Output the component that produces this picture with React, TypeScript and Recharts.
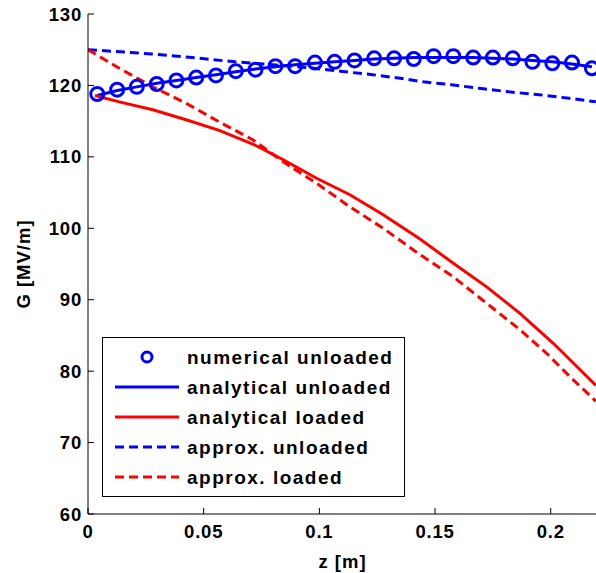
import { LineChart, Line, XAxis, YAxis, Legend } from "recharts";

// numerical unloaded (circles)
const numZ = [0.004, 0.0126, 0.0211, 0.0297, 0.0382, 0.0468, 0.0553, 0.0639, 0.0724, 0.081, 0.0895, 0.0981, 0.1066,
  0.1152, 0.1237, 0.1323, 0.1408, 0.1494, 0.1579, 0.1665, 0.175, 0.1836, 0.1921, 0.2007, 0.2092, 0.2178];
const numG = [118.8, 119.4, 119.8, 120.2, 120.7, 121.1, 121.4, 122.0, 122.2, 122.7, 122.7, 123.2, 123.3,
  123.5, 123.8, 123.8, 123.7, 124.1, 124.1, 123.9, 123.9, 123.8, 123.3, 123.1, 123.2, 122.4];

// analytical unloaded (solid blue)
const anaUnlG = [118.6, 119.3, 119.8, 120.3, 120.7, 121.1, 121.5, 121.9, 122.3, 122.6, 122.9, 123.1, 123.3,
  123.5, 123.7, 123.8, 123.9, 123.9, 123.9, 123.9, 123.8, 123.7, 123.5, 123.3, 123.0, 122.6];

// analytical loaded (solid red)
const anaLoadZ = [0.003, 0.0135, 0.028, 0.0424, 0.0567, 0.0712, 0.0844, 0.0988, 0.1132, 0.1276, 0.1435, 0.1579,
  0.1723, 0.1867, 0.2011, 0.2195];
const anaLoadG = [118.6, 117.7, 116.6, 115.2, 113.7, 111.8, 109.6, 107.0, 104.7, 101.9, 98.5, 95.1, 91.8, 88.1, 83.9, 78.0];

// approx. unloaded (dashed blue)
const appUnlZ = [0, 0.01, 0.0275, 0.045, 0.0635, 0.08, 0.095, 0.11, 0.123, 0.135, 0.145, 0.157, 0.169, 0.182, 0.195,
  0.208, 0.2195];
const appUnlG = [125.0, 124.8, 124.4, 123.9, 123.3, 122.9, 122.5, 121.95, 121.5, 121.0, 120.5, 120.1, 119.6, 119.1,
  118.7, 118.2, 117.7];

// approx. loaded (dashed red)
const appLoadZ = [0, 0.0135, 0.028, 0.0424, 0.0567, 0.0712, 0.0844, 0.0988, 0.1132, 0.1276, 0.1435, 0.1579, 0.1723,
  0.1867, 0.1982, 0.2084, 0.2195];
const appLoadG = [125.0, 122.4, 119.8, 117.5, 114.9, 112.4, 109.3, 106.3, 103.0, 100.0, 96.3, 93.2, 89.5, 85.8, 82.5,
  79.2, 75.8];

const xTicks = [0, 0.05, 0.1, 0.15, 0.2];
const yTicks = [60, 70, 80, 90, 100, 110, 120, 130];

const legendItems = [
  { name: "numerical unloaded", color: "#0000FF", kind: "circle" },
  { name: "analytical unloaded", color: "#0000FF", kind: "solid" },
  { name: "analytical loaded", color: "#FF0000", kind: "solid" },
  { name: "approx. unloaded", color: "#0000FF", kind: "dash" },
  { name: "approx. loaded", color: "#FF0000", kind: "dash" },
];

const toPts = (zs: number[], gs: number[]) => zs.map((z, i) => ({ z, g: gs[i] }));

const FONT = "'Liberation Sans', Arial, sans-serif";
const DASH = "9 5";

const XTick = (props: any) => {
  const { x, y, payload } = props;
  return (
    <g>
      <line x1={x} y1={y} x2={x} y2={y - 6} stroke="#000" strokeWidth={1} />
      <text x={x} y={y + 24} textAnchor="middle" fontFamily={FONT} fontWeight="bold" fontSize={18.5}
        letterSpacing={0.8} fill="#000">{payload.value}</text>
    </g>
  );
};

const YTick = (props: any) => {
  const { x, y, payload } = props;
  return (
    <g>
      <line x1={x} y1={y} x2={x + 6} y2={y} stroke="#000" strokeWidth={1} />
      <text x={x - 6} y={y + 6.5} textAnchor="end" fontFamily={FONT} fontWeight="bold" fontSize={18.5}
        letterSpacing={0.8} fill="#000">{payload.value}</text>
    </g>
  );
};

const LegendBox = () => (
  <svg width={303} height={160}>
    <rect x={0.5} y={0.5} width={302} height={159} fill="#fff" stroke="#000" strokeWidth={1} />
    {legendItems.map((it, i) => {
      const cy = 20 + i * 30;
      return (
        <g key={it.name}>
          {it.kind === "circle" ? (
            <circle cx={45} cy={cy} r={5} fill="none" stroke={it.color} strokeWidth={3} />
          ) : (
            <line x1={13} y1={cy} x2={77} y2={cy} stroke={it.color} strokeWidth={3}
              strokeDasharray={it.kind === "dash" ? DASH : undefined} />
          )}
          <text x={85} y={cy + 7} fontFamily={FONT} fontWeight="bold" fontSize={19} letterSpacing={1.5}
            fill="#000">{it.name}</text>
        </g>
      );
    })}
  </svg>
);

export default function App() {
  return (
    <div style={{ position: "absolute", left: 0, top: 0, width: 596, height: 573, overflow: "hidden", background: "#fff" }}>
      <LineChart width={597} height={573} margin={{ top: 14, right: 0, bottom: 0, left: 0 }}>
        <XAxis
          dataKey="z"
          type="number"
          domain={[0, 0.22]}
          ticks={xTicks}
          allowDataOverflow
          height={59}
          tickSize={0}
          tickMargin={0}
          tick={<XTick />}
          axisLine={{ stroke: "#000", strokeWidth: 1 }}
          label={(p: any) => {
            const vb = p.viewBox;
            return (
              <text x={vb.x + vb.width / 2} y={vb.y + 54} textAnchor="middle" fontFamily={FONT} fontWeight="bold"
                fontSize={18.5} letterSpacing={1} fill="#000">z [m]</text>
            );
          }}
        />
        <YAxis
          dataKey="g"
          type="number"
          domain={[60, 130]}
          ticks={yTicks}
          allowDataOverflow
          width={88}
          tickSize={0}
          tickMargin={0}
          tick={<YTick />}
          axisLine={{ stroke: "#000", strokeWidth: 1 }}
          label={(p: any) => {
            const vb = p.viewBox;
            const cx = 23;
            const cy = vb.y + vb.height / 2;
            return (
              <text x={cx} y={cy} transform={`rotate(-90 ${cx} ${cy})`} textAnchor="middle" dominantBaseline="central"
                fontFamily={FONT} fontWeight="bold" fontSize={18.5} letterSpacing={1} fill="#000">G [MV/m]</text>
            );
          }}
        />
        <Legend
          layout="vertical"
          align="center"
          verticalAlign="middle"
          content={<LegendBox />}
          wrapperStyle={{ left: 102, top: 337, width: 303, height: 160, bottom: "auto", right: "auto" }}
        />
        <Line data={toPts(numZ, anaUnlG)} dataKey="g" name="analytical unloaded" type="linear" stroke="#0000FF"
          strokeWidth={3} dot={false} isAnimationActive={false} />
        <Line data={toPts(anaLoadZ, anaLoadG)} dataKey="g" name="analytical loaded" type="linear" stroke="#FF0000"
          strokeWidth={3} dot={false} isAnimationActive={false} />
        <Line data={toPts(appUnlZ, appUnlG)} dataKey="g" name="approx. unloaded" type="linear" stroke="#0000FF"
          strokeWidth={3} strokeDasharray={DASH} dot={false} isAnimationActive={false} />
        <Line data={toPts(appLoadZ, appLoadG)} dataKey="g" name="approx. loaded" type="linear" stroke="#FF0000"
          strokeWidth={3} strokeDasharray={DASH} dot={false} isAnimationActive={false} />
        <Line data={toPts(numZ, numG)} dataKey="g" name="numerical unloaded" type="linear" stroke="none"
          dot={{ r: 6.5, fill: "none", stroke: "#0000FF", strokeWidth: 3 }} isAnimationActive={false} />
      </LineChart>
    </div>
  );
}
